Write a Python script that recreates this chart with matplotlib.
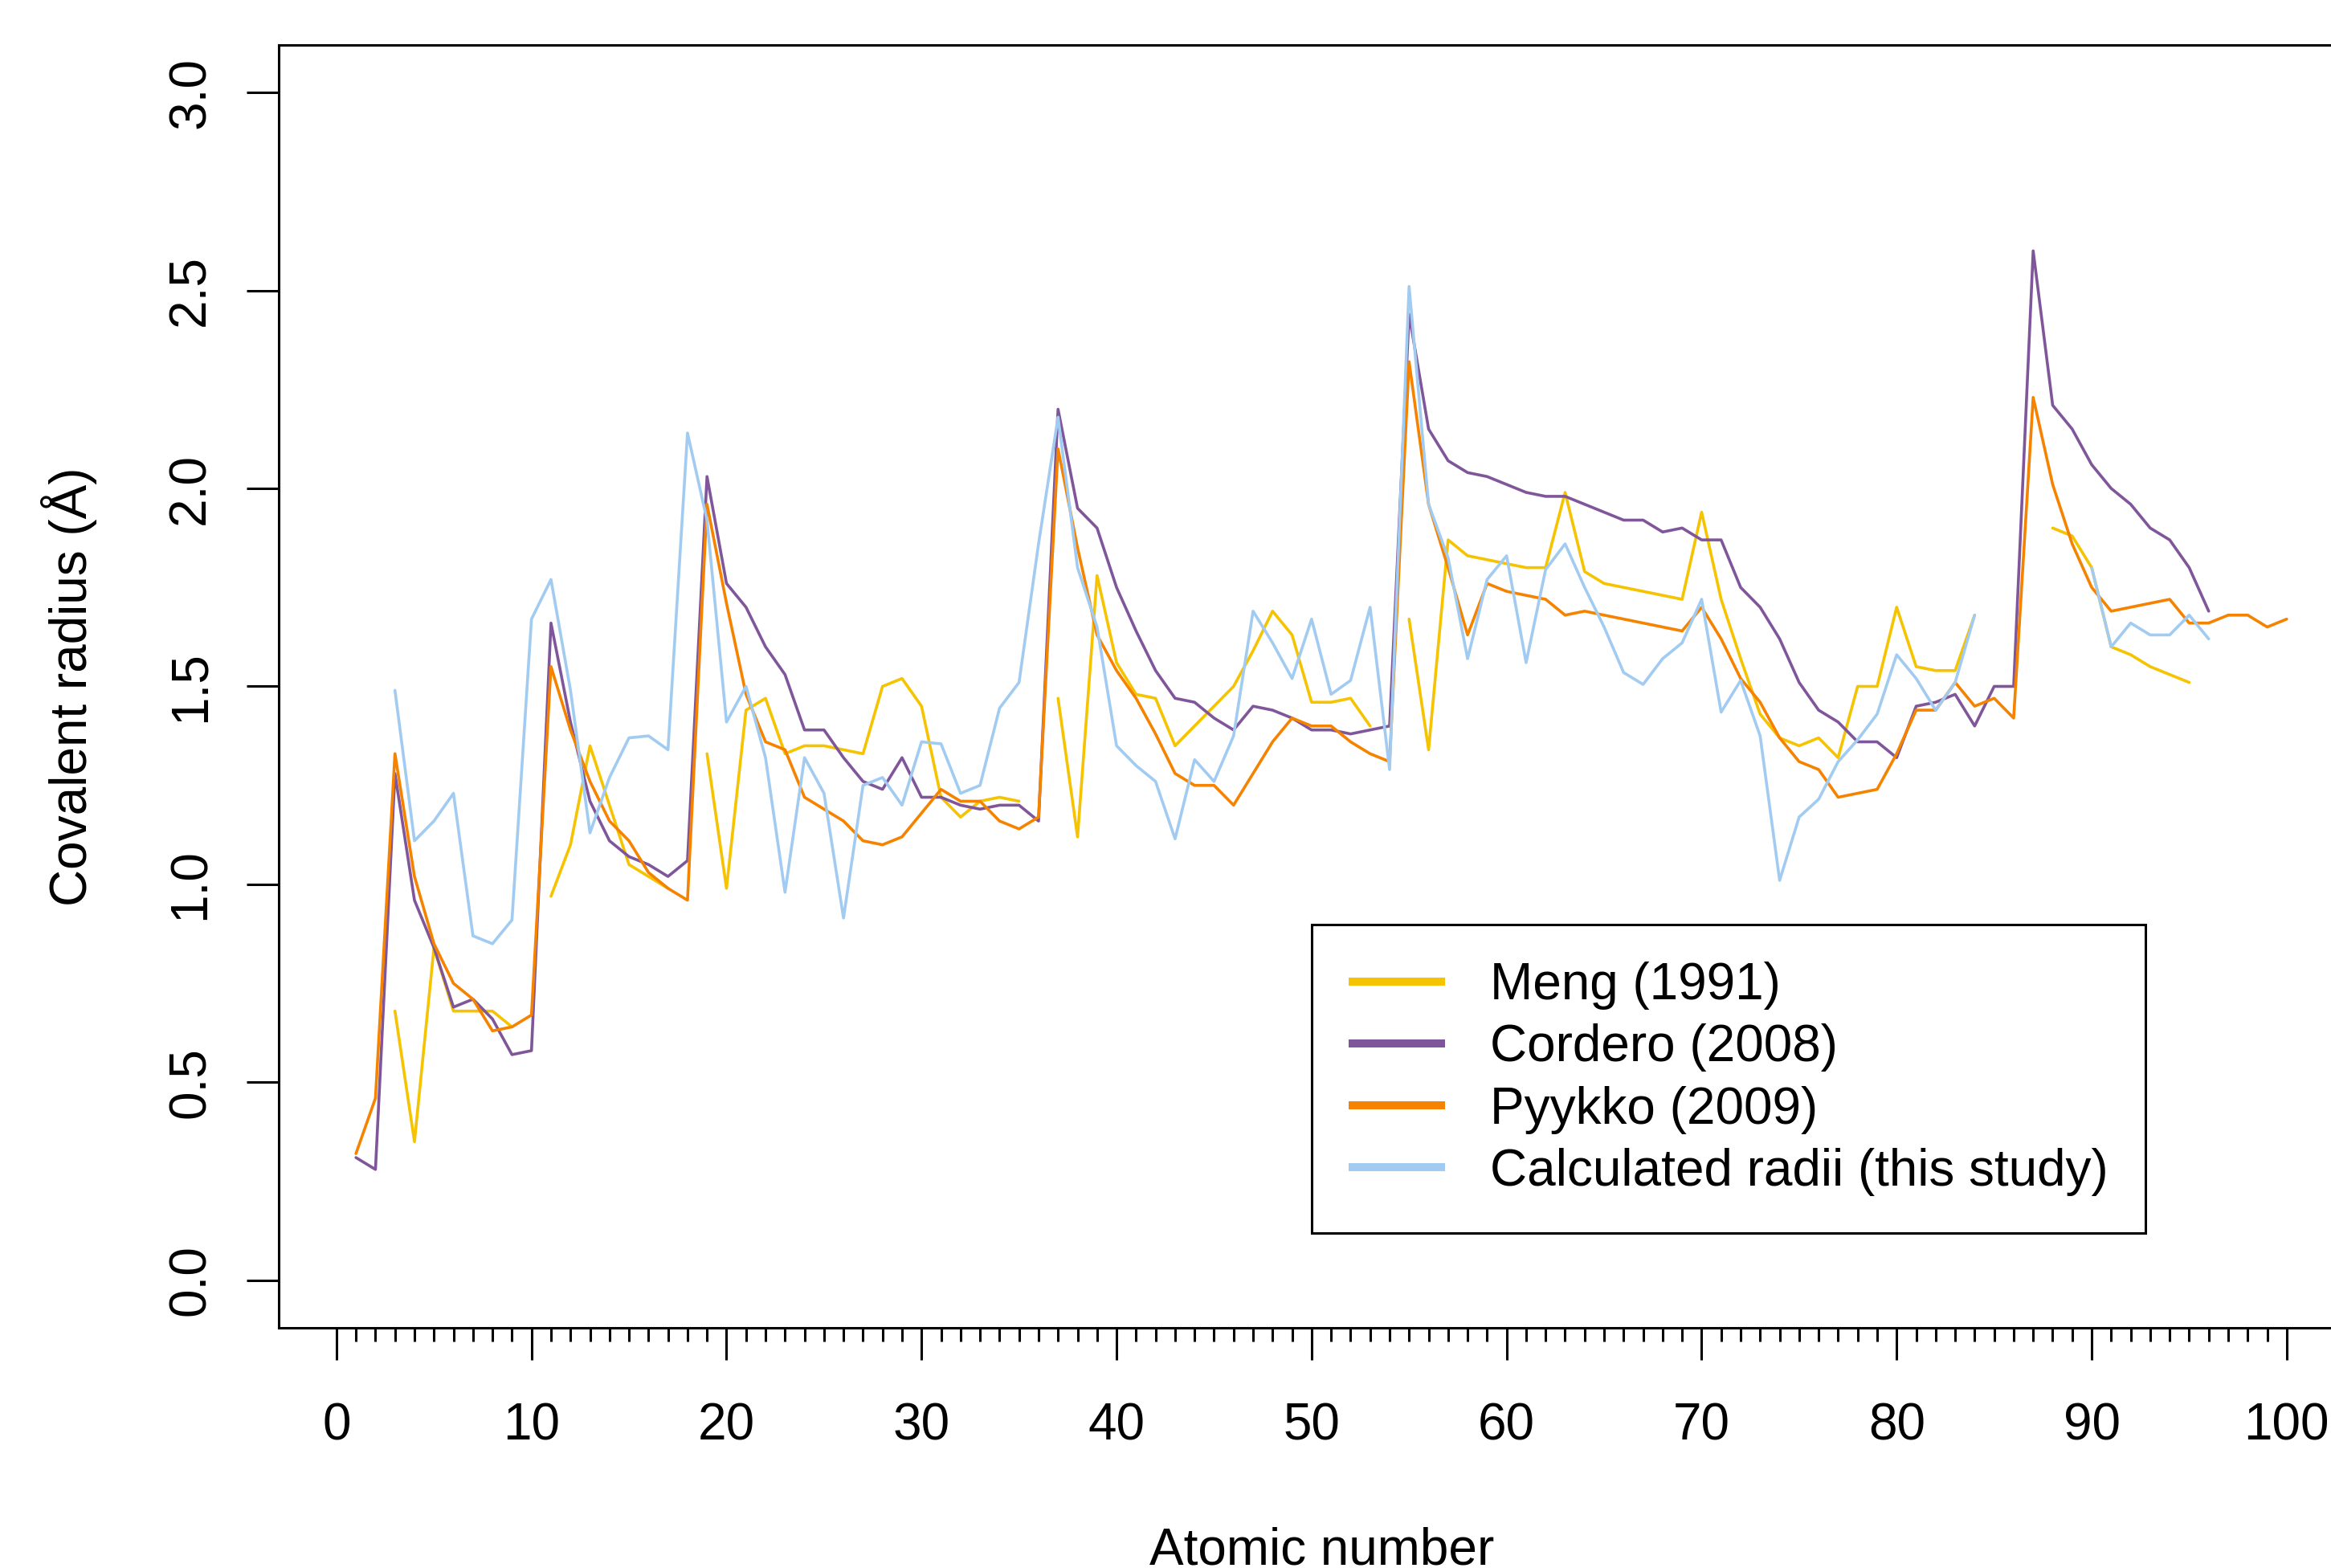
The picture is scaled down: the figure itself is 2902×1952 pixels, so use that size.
import numpy as np
import matplotlib
matplotlib.use('Agg')
import matplotlib.pyplot as plt

nan = np.nan

atomic_number = np.arange(1, 101)

# Meng (1991), missing values as nan
meng = [nan, nan, 0.68, 0.35, 0.84, 0.68, 0.68, 0.68, 0.64, nan,
        0.97, 1.10, 1.35, 1.20, 1.05, 1.02, 0.99, nan, 1.33, 0.99,
        1.44, 1.47, 1.33, 1.35, 1.35, 1.34, 1.33, 1.50, 1.52, 1.45,
        1.22, 1.17, 1.21, 1.22, 1.21, nan, 1.47, 1.12, 1.78, 1.56,
        1.48, 1.47, 1.35, 1.40, 1.45, 1.50, 1.59, 1.69, 1.63, 1.46,
        1.46, 1.47, 1.40, nan, 1.67, 1.34, 1.87, 1.83, 1.82, 1.81,
        1.80, 1.80, 1.99, 1.79, 1.76, 1.75, 1.74, 1.73, 1.72, 1.94,
        1.72, 1.57, 1.43, 1.37, 1.35, 1.37, 1.32, 1.50, 1.50, 1.70,
        1.55, 1.54, 1.54, 1.68, nan, nan, nan, 1.90, 1.88, 1.80,
        1.60, 1.58, 1.55, 1.53, 1.51, nan, nan, nan, nan, nan]

# Cordero (2008)
cordero = [0.31, 0.28, 1.28, 0.96, 0.84, 0.69, 0.71, 0.66, 0.57, 0.58,
           1.66, 1.41, 1.21, 1.11, 1.07, 1.05, 1.02, 1.06, 2.03, 1.76,
           1.70, 1.60, 1.53, 1.39, 1.39, 1.32, 1.26, 1.24, 1.32, 1.22,
           1.22, 1.20, 1.19, 1.20, 1.20, 1.16, 2.20, 1.95, 1.90, 1.75,
           1.64, 1.54, 1.47, 1.46, 1.42, 1.39, 1.45, 1.44, 1.42, 1.39,
           1.39, 1.38, 1.39, 1.40, 2.44, 2.15, 2.07, 2.04, 2.03, 2.01,
           1.99, 1.98, 1.98, 1.96, 1.94, 1.92, 1.92, 1.89, 1.90, 1.87,
           1.87, 1.75, 1.70, 1.62, 1.51, 1.44, 1.41, 1.36, 1.36, 1.32,
           1.45, 1.46, 1.48, 1.40, 1.50, 1.50, 2.60, 2.21, 2.15, 2.06,
           2.00, 1.96, 1.90, 1.87, 1.80, 1.69, nan, nan, nan, nan]

# Pyykko (2009)
pyykko = [0.32, 0.46, 1.33, 1.02, 0.85, 0.75, 0.71, 0.63, 0.64, 0.67,
          1.55, 1.39, 1.26, 1.16, 1.11, 1.03, 0.99, 0.96, 1.96, 1.71,
          1.48, 1.36, 1.34, 1.22, 1.19, 1.16, 1.11, 1.10, 1.12, 1.18,
          1.24, 1.21, 1.21, 1.16, 1.14, 1.17, 2.10, 1.85, 1.63, 1.54,
          1.47, 1.38, 1.28, 1.25, 1.25, 1.20, 1.28, 1.36, 1.42, 1.40,
          1.40, 1.36, 1.33, 1.31, 2.32, 1.96, 1.80, 1.63, 1.76, 1.74,
          1.73, 1.72, 1.68, 1.69, 1.68, 1.67, 1.66, 1.65, 1.64, 1.70,
          1.62, 1.52, 1.46, 1.37, 1.31, 1.29, 1.22, 1.23, 1.24, 1.33,
          1.44, 1.44, 1.51, 1.45, 1.47, 1.42, 2.23, 2.01, 1.86, 1.75,
          1.69, 1.70, 1.71, 1.72, 1.66, 1.66, 1.68, 1.68, 1.65, 1.67]

# Calculated radii (this study)
calculated = [nan, nan, 1.49, 1.11, 1.16, 1.23, 0.87, 0.85, 0.91, 1.67,
              1.77, 1.49, 1.13, 1.27, 1.37, 1.375, 1.34, 2.14, 1.92, 1.41,
              1.50, 1.32, 0.98, 1.32, 1.23, 0.915, 1.25, 1.27, 1.20, 1.36,
              1.355, 1.23, 1.25, 1.445, 1.51, 1.86, 2.18, 1.80, 1.65, 1.35,
              1.30, 1.26, 1.115, 1.315, 1.26, 1.375, 1.69, 1.61, 1.52, 1.67,
              1.48, 1.515, 1.70, 1.29, 2.51, 1.96, 1.825, 1.57, 1.77, 1.83,
              1.56, 1.795, 1.86, 1.75, 1.65, 1.535, 1.505, 1.57, 1.61, 1.72,
              1.435, 1.515, 1.375, 1.01, 1.17, 1.215, 1.31, 1.365, 1.43, 1.58,
              1.52, 1.44, 1.51, 1.68, nan, nan, nan, nan, nan, 1.80,
              1.60, 1.66, 1.63, 1.63, 1.68, 1.62, nan, nan, nan, nan]

series_labels = ['Meng (1991)', 'Cordero (2008)', 'Pyykko (2009)', 'Calculated radii (this study)']
series_colors = ['#F5C300', '#80569A', '#F58300', '#A2CBF1']

x_ticks = np.arange(0, 101, 10)
y_ticks = np.arange(0, 3.01, 0.5)

W, H = 2902, 1952
DPI = 200
FS = 23

plt.rcParams['font.family'] = ['Liberation Sans', 'DejaVu Sans']


def main():
    fig = plt.figure(figsize=(W / DPI, H / DPI), dpi=DPI)
    # R style box, right edge runs off the picture like in the original
    ax = fig.add_axes([347 / W, 1 - 1653 / H, (2943 - 347) / W, (1653 - 56) / H])

    for values, label, color in zip([meng, cordero, pyykko, calculated], series_labels, series_colors):
        ax.plot(atomic_number, values, color=color, lw=1.3, label=label,
                solid_joinstyle='round', solid_capstyle='round')

    ax.set_xlim(-2.96, 103.96)
    ax.set_ylim(-0.12, 3.12)

    ax.set_xticks(x_ticks)
    ax.set_xticklabels([str(t) for t in x_ticks])
    ax.set_xticks(np.arange(0, 101, 1), minor=True)
    ax.set_yticks(y_ticks)
    ax.set_yticklabels([f'{t:.1f}' for t in y_ticks])

    for s in ax.spines.values():
        s.set_linewidth(1.1)
        s.set_color('black')

    ax.tick_params(axis='x', which='major', direction='out', length=14.4, width=1.1, pad=19.0, labelsize=FS)
    ax.tick_params(axis='x', which='minor', direction='out', length=6.1, width=1.1)
    ax.tick_params(axis='y', which='major', direction='out', length=14.4, width=1.1, pad=14.2,
                   labelsize=FS, labelrotation=90)
    for lab in ax.get_yticklabels():
        lab.set_verticalalignment('center')

    fig.text(1646 / W, 1 - 1947 / H, 'Atomic number', ha='center', va='baseline', fontsize=FS)
    fig.text(86 / W, 1 - 855 / H, 'Covalent radius (\u00c5)', ha='center', va='center',
             rotation=90, fontsize=FS)

    leg = ax.legend(loc='upper left', bbox_to_anchor=(1633 / W, 1 - 1151 / H),
                    bbox_transform=fig.transFigure, borderaxespad=0, fontsize=FS,
                    handlelength=1.88, handletextpad=0.88, labelspacing=0.27,
                    borderpad=0.72, fancybox=False, framealpha=1, edgecolor='black')
    leg.get_frame().set_linewidth(1.1)
    for line in leg.get_lines():
        line.set_linewidth(3.6)
        line.set_solid_capstyle('butt')

    fig.savefig('out.png', dpi=DPI)
    plt.close(fig)


if __name__ == '__main__':
    main()
